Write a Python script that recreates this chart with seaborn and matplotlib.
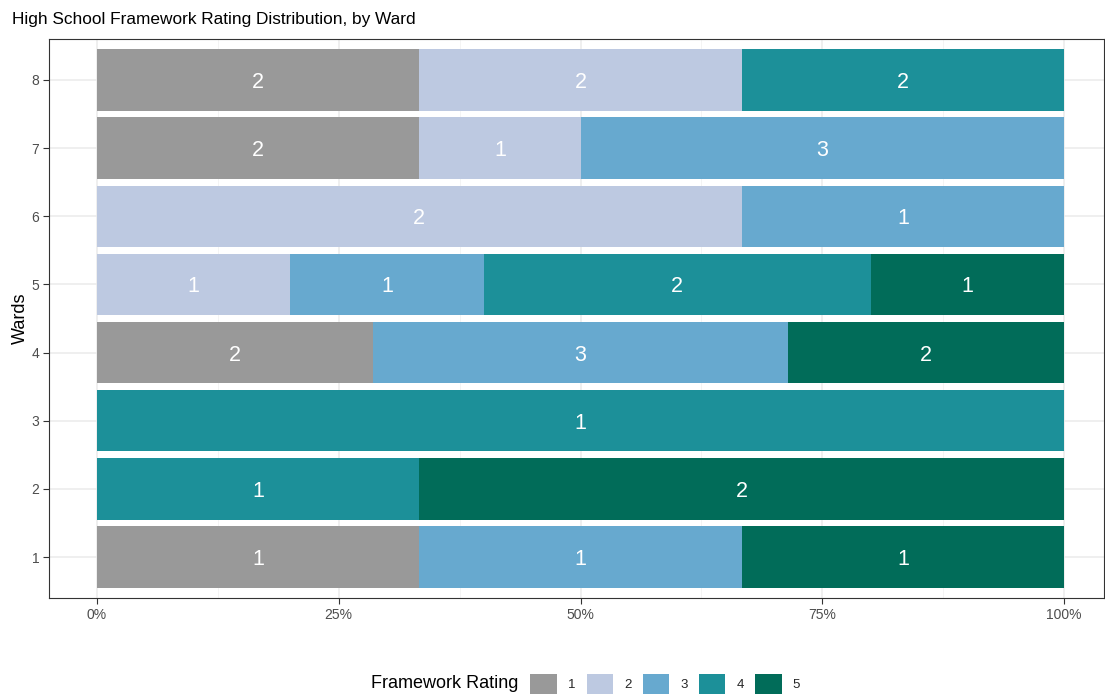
import numpy as np
import pandas as pd
import matplotlib
matplotlib.use('Agg')
import matplotlib.pyplot as plt
from matplotlib.patches import Patch
from matplotlib.ticker import MultipleLocator, PercentFormatter
import seaborn as sns

# Counts of schools per ward and framework rating (zeros omitted)
wards   = [1, 1, 1, 2, 2, 3, 4, 4, 4, 5, 5, 5, 5, 6, 6, 7, 7, 7, 8, 8, 8]
ratings = [1, 3, 5, 4, 5, 4, 1, 3, 5, 2, 3, 4, 5, 2, 3, 1, 2, 3, 1, 2, 4]
counts  = [1, 1, 1, 1, 2, 1, 2, 3, 2, 1, 1, 2, 1, 2, 1, 2, 1, 3, 2, 2, 2]

RATING_LEVELS = [1, 2, 3, 4, 5]
COLORS = ['#999999', '#BDC9E1', '#67A9CF', '#1C9099', '#016C59']
palette = dict(zip(RATING_LEVELS, COLORS))

df = pd.DataFrame({'ward': wards, 'rating': ratings, 'count': counts})

sns.set_theme(style='white')
plt.rcParams['font.family'] = ['Liberation Sans', 'DejaVu Sans']

fig = plt.figure(figsize=(11.05, 6.97), dpi=100)
ax = fig.add_axes([0.0443, 0.142, 0.955, 0.802])

# seaborn stacks the last hue level at the base, so reverse the order
sns.histplot(data=df, y='ward', hue='rating', weights='count',
             multiple='fill', discrete=True, shrink=0.9,
             hue_order=RATING_LEVELS[::-1], palette=palette,
             alpha=1, linewidth=0, legend=False, ax=ax)

# Count labels in the middle of each segment
df = df.sort_values(['ward', 'rating'])
df['share'] = df['count'] / df.groupby('ward')['count'].transform('sum')
df['mid'] = df.groupby('ward')['share'].cumsum() - df['share'] / 2
for w, n, m in zip(df['ward'], df['count'], df['mid']):
    ax.text(m, w, str(int(n)), color='white',
            ha='center', va='center_baseline', fontsize=15.5)

ax.set_xlim(-0.0496, 1.0414)
ax.set_ylim(0.4, 8.6)
ax.xaxis.set_major_locator(MultipleLocator(0.25))
ax.xaxis.set_minor_locator(MultipleLocator(0.125))
ax.xaxis.set_major_formatter(PercentFormatter(1.0, decimals=0))
ax.set_yticks(range(1, 9))

ax.set_axisbelow(True)
ax.grid(which='major', color='#EBEBEB', linewidth=1.1)
ax.grid(which='minor', axis='x', color='#F2F2F2', linewidth=0.6)
ax.tick_params(axis='both', which='major', length=4, width=0.8,
               color='#333333', labelcolor='#4D4D4D', labelsize=10,
               left=True, bottom=True, pad=3)
ax.tick_params(which='minor', length=0)
for s in ax.spines.values():
    s.set_color('#333333')
    s.set_linewidth(0.8)

ax.set_xlabel('')
ax.set_ylabel('Wards', fontsize=13, color='black', labelpad=2)
ax.set_title('High School Framework Rating Distribution, by Ward',
             loc='left', x=-0.035, fontsize=12.4, pad=10.5, color='black')

# Legend along the bottom, title to the left
handles = [Patch(facecolor=c, edgecolor='none') for c in COLORS]
fig.legend(handles, [str(r) for r in RATING_LEVELS], ncol=5,
           loc='center', bbox_to_anchor=(0.602, 0.019), frameon=False,
           fontsize=9.5, handlelength=2.0, handleheight=2.0,
           handletextpad=0.85, columnspacing=0.85, borderpad=0)
fig.text(0.4688, 0.019, 'Framework Rating', ha='right', va='center',
         fontsize=13, color='black')

fig.savefig('out.png', dpi=100)
